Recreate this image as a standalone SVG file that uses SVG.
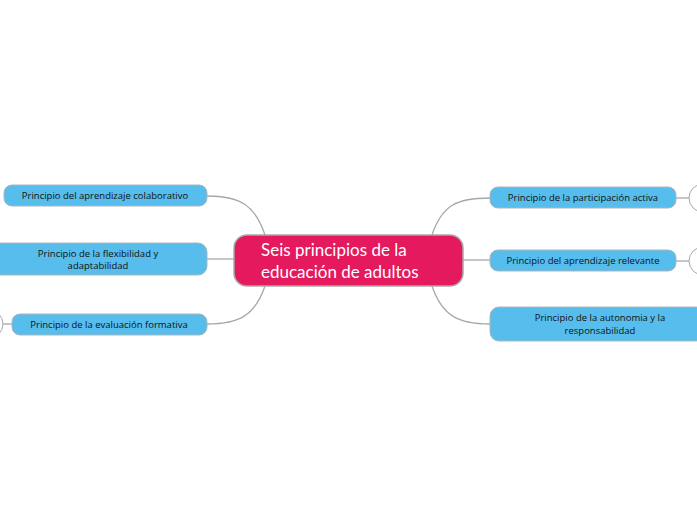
<svg xmlns="http://www.w3.org/2000/svg" width="697" height="520" viewBox="0 0 697 520">
<style>
.n{fill:#56bdec;stroke:#a9b5bd;stroke-width:1}
.t{font-family:"Open Sans","Liberation Sans",sans-serif;font-size:9.5px;fill:#111;text-anchor:middle}
.c{fill:none;stroke:#a8a8a8;stroke-width:1.3}
.o{fill:#fff;stroke:#a8a8a8;stroke-width:1}
</style>
<rect width="697" height="520" fill="#fff"/>
<g id="connectors">
<path class="c" d="M265,235 C255,205 240,196 207,196"/>
<path class="c" d="M207,259 L234,259"/>
<path class="c" d="M265,286 C255,315 240,324 207,324"/>
<path class="c" d="M432,235 C442,205 457,198 490,198"/>
<path class="c" d="M463,260 L490,260"/>
<path class="c" d="M432,286 C442,315 457,324 490,324"/>
<path class="c" d="M676,198 L689,198"/>
<path class="c" d="M676,261 L689,261"/>
<path class="c" d="M3,324 L12,324"/>
</g>
<g id="center">
<rect x="234" y="235" width="229" height="51" rx="13" fill="#e5195e" stroke="#a9a9a9" stroke-width="1.5"/>
<text x="261" y="256" font-family="Lato,'Open Sans','Liberation Sans',sans-serif" font-size="17" fill="#fff">Seis principios de la</text>
<text x="261" y="278" font-family="Lato,'Open Sans','Liberation Sans',sans-serif" font-size="17" fill="#fff">educación de adultos</text>
</g>
<g id="l1"><rect class="n" x="4" y="185" width="203" height="21" rx="8"/><text class="t" x="105" y="199">Principio del aprendizaje colaborativo</text></g>
<g id="l2"><rect class="n" x="-8" y="243" width="215" height="32" rx="9"/><text class="t" x="98" y="257">Principio de la flexibilidad y</text><text class="t" x="98" y="269">adaptabilidad</text></g>
<g id="l3"><rect class="n" x="12" y="314" width="195" height="21" rx="8"/><text class="t" x="109" y="328">Principio de la evaluación formativa</text><circle class="o" cx="-11" cy="324" r="14"/></g>
<g id="r1"><rect class="n" x="490" y="187" width="186" height="21" rx="8"/><text class="t" x="583" y="201">Principio de la participación activa</text><circle class="o" cx="703" cy="198" r="14"/></g>
<g id="r2"><rect class="n" x="490" y="250" width="186" height="21" rx="8"/><text class="t" x="583" y="264">Principio del aprendizaje relevante</text><circle class="o" cx="703" cy="261" r="14"/></g>
<g id="r3"><rect class="n" x="490" y="307" width="215" height="34" rx="9"/><text class="t" x="600" y="321">Principio de la autonomia y la</text><text class="t" x="600" y="334">responsabilidad</text></g>
</svg>
